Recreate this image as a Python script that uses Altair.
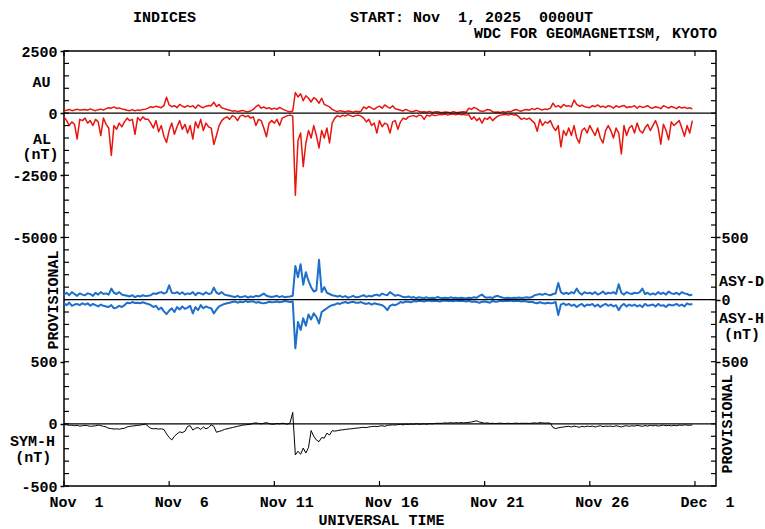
import altair as alt
import pandas as pd

# ---------------- data (3-hourly samples, Nov 1 00UT onward) -------------
STEP_HOURS = 3

AU = [
    80, 120, 150, 100, 130, 160, 120, 140,
    150, 120, 170, 130, 100, 140, 160, 120,
    180, 220, 200, 250, 190, 210, 170, 150,
    120, 100, 140, 90, 130, 110, 150, 160,
    200, 260, 230, 280, 250, 220, 300, 640,
    330, 260, 300, 220, 350, 280, 240, 300,
    250, 300, 200, 330, 260, 220, 280, 310,
    300, 440, 260, 350, 220, 180, 150, 120,
    80, 100, 60, 90, 110, 70, 60, 90,
    150, 260, 330, 200, 250, 180, 220, 150,
    200, 150, 230, 170, 120, 80, 60, 90,
    830, 650, 780, 500, 700, 600, 450, 620,
    550, 400, 600, 350, 300, 250, 150, 100,
    60, 100, 80, 50, 90, 70, 40, 80,
    60, 80, 250, 180, 270, 200, 150, 230,
    280, 200, 330, 250, 200, 300, 180, 150,
    120, 90, 150, 100, 60, 80, 110, 70,
    50, 60, 40, 70, 30, 50, 60, 40,
    30, 50, 40, 20, 60, 40, 30, 50,
    60, 40, 200, 150, 230, 180, 100, 80,
    90, 150, 130, 60, 40, 50, 30, 60,
    40, 70, 60, 120, 150, 100, 80, 130,
    150, 120, 180, 140, 200, 160, 130, 170,
    150, 200, 400, 250, 300, 220, 350, 280,
    300, 250, 530, 350, 280, 320, 260, 240,
    220, 300, 260, 330, 250, 280, 220, 300,
    270, 200, 300, 240, 280, 310, 220, 260,
    250, 300, 200, 280, 230, 260, 300, 220,
    200, 260, 230, 180, 300, 250, 200, 270,
    230, 180, 260, 200, 240, 190, 220, 160,
]

AL = [
    -150, -300, -500, -350, -450, -1040, -250, -300,
    -200, -400, -300, -500, -250, -350, -900, -200,
    -450, -600, -1700, -500, -650, -400, -550, -350,
    -200, -300, -250, -850, -180, -300, -150, -250,
    -250, -400, -600, -300, -750, -500, -930, -1180,
    -700, -400, -850, -550, -300, -650, -450, -800,
    -500, -1040, -350, -600, -250, -700, -400, -550,
    -600, -1260, -900, -500, -300, -200, -150, -250,
    -100, -150, -300, -120, -80, -150, -100, -200,
    -150, -500, -250, -300, -600, -950, -400, -300,
    -400, -250, -500, -200, -150, -100, -80, -120,
    -3300, -1100, -800, -2150, -1200, -700, -1000, -500,
    -900, -1400, -700, -1000, -600, -1200, -400, -200,
    -100, -150, -80, -120, -60, -100, -140, -90,
    -80, -120, -200, -350, -250, -500, -400, -800,
    -300, -550, -400, -450, -800, -350, -300, -650,
    -350, -200, -250, -150, -120, -100, -150, -80,
    -100, -250, -80, -120, -60, -100, -80, -50,
    -60, -40, -80, -50, -30, -70, -40, -60,
    -50, -80, -60, -250, -150, -300, -200, -400,
    -200, -250, -150, -300, -200, -120, -80, -60,
    -50, -80, -40, -70, -60, -150, -250, -200,
    -250, -200, -300, -400, -730, -250, -500, -350,
    -400, -300, -550, -700, -500, -1360, -700, -900,
    -600, -900, -500, -1000, -1200, -700, -600, -800,
    -500, -700, -900, -600, -1000, -1200, -700, -500,
    -700, -1000, -600, -800, -1640, -500, -900, -600,
    -500, -800, -400, -700, -800, -600, -450, -700,
    -500, -300, -600, -1250, -450, -700, -1070, -350,
    -500, -400, -300, -600, -930, -500, -800, -300,
]

ASY_D = [
    40, 55, 35, 60, 45, 30, 50, 40,
    35, 50, 45, 30, 55, 40, 60, 45,
    50, 40, 88, 55, 45, 60, 40, 35,
    30, 25, 35, 20, 30, 25, 35, 28,
    30, 35, 50, 45, 55, 60, 48, 58,
    115, 55, 50, 60, 45, 58, 40, 50,
    45, 60, 35, 55, 50, 40, 58, 45,
    50, 96, 55, 45, 60, 40, 35, 30,
    25, 20, 30, 18, 22, 28, 15, 25,
    20, 30, 25, 35, 48, 30, 25, 20,
    25, 30, 20, 28, 18, 22, 25, 30,
    270, 180, 285, 120, 220, 150, 100, 65,
    75, 320, 60, 100, 55, 45, 35, 30,
    25, 30, 20, 28, 15, 22, 30, 18,
    20, 28, 35, 22, 30, 25, 35, 40,
    30, 48, 40, 35, 60, 45, 30, 38,
    30, 20, 18, 25, 15, 20, 12, 18,
    15, 12, 18, 10, 15, 12, 20, 14,
    12, 15, 10, 18, 12, 14, 10, 15,
    12, 10, 15, 12, 18, 15, 30, 40,
    20, 15, 18, 12, 25, 30, 20, 15,
    12, 15, 10, 14, 12, 16, 12, 15,
    18, 15, 20, 35, 40, 45, 38, 48,
    40, 35, 45, 48, 133, 60, 45, 55,
    45, 60, 50, 88, 55, 40, 60, 50,
    55, 45, 60, 40, 50, 65, 45, 55,
    50, 60, 45, 123, 55, 40, 60, 50,
    45, 55, 50, 60, 88, 45, 55, 40,
    50, 40, 60, 45, 55, 40, 65, 50,
    45, 55, 40, 60, 50, 45, 35, 40,
]

ASY_H = [
    30, 45, 25, 50, 40, 35, 45, 30,
    40, 30, 50, 35, 45, 55, 40, 50,
    55, 60, 45, 70, 65, 50, 60, 45,
    25, 30, 20, 28, 25, 30, 22, 30,
    35, 45, 60, 50, 80, 65, 95, 117,
    90, 70, 100, 60, 80, 55, 75, 65,
    50, 112, 60, 85, 45, 70, 55, 65,
    70, 112, 80, 55, 45, 35, 30, 25,
    20, 15, 25, 18, 22, 12, 20, 15,
    15, 25, 20, 28, 30, 25, 18, 22,
    20, 15, 22, 18, 12, 16, 20, 15,
    392, 180, 245, 150, 210, 120, 160, 110,
    140, 192, 100, 85, 70, 55, 45, 40,
    30, 35, 25, 20, 28, 22, 18, 25,
    25, 20, 30, 35, 28, 40, 30, 35,
    40, 45, 60, 85, 50, 40, 45, 35,
    20, 25, 15, 18, 22, 12, 15, 10,
    12, 15, 10, 8, 14, 10, 12, 15,
    10, 8, 12, 10, 14, 8, 12, 10,
    12, 15, 10, 18, 15, 20, 25, 18,
    15, 20, 25, 12, 18, 15, 10, 14,
    10, 12, 8, 14, 10, 12, 15, 12,
    15, 20, 18, 25, 30, 22, 28, 32,
    25, 30, 28, 20, 125, 40, 30, 45,
    35, 50, 40, 60, 45, 35, 55, 40,
    45, 35, 55, 40, 60, 45, 35, 50,
    40, 55, 45, 85, 50, 35, 55, 40,
    50, 40, 55, 45, 60, 35, 50, 45,
    40, 55, 35, 50, 45, 60, 40, 45,
    45, 35, 50, 40, 55, 30, 40, 35,
]

SYM_H = [
    -5, -8, -12, -10, -15, -12, -18, -15,
    -12, -15, -20, -18, -15, -10, -14, -20,
    -25, -35, -38, -42, -40, -43, -38, -35,
    -25, -20, -18, -15, -12, -10, -6, -2,
    -20, -35, -40, -38, -42, -40, -45, -80,
    -110, -130, -100, -80, -65, -70, -60, -20,
    -15, -50, -35, -30, -45, -25, -40, -30,
    -8, -20, -68, -60, -55, -45, -40, -35,
    -30, -25, -20, -15, -10, -8, -5, -3,
    5, 8, 3, 0, 5, 10, 2, -3,
    -2, 3, 0, 5, 2, -3, 8, 92,
    -250, -220, -245, -195, -235, -190, -54, -100,
    -130, -143, -110, -115, -75, -90, -55, -58,
    -55, -50, -48, -45, -42, -40, -38, -35,
    -33, -30, -28, -30, -25, -22, -20, -22,
    -18, -15, -20, -12, -10, -8, -10, -6,
    -5, -8, -3, -5, -2, -4, 0, -3,
    -2, 0, -3, 2, 0, 3, 5, 4,
    5, 8, 6, 10, 7, 9, 8, 10,
    8, 10, 12, 15, 20, 25, 15, 10,
    5, 8, 3, 5, 2, 4, 6, 3,
    3, 5, 2, 4, 6, 3, 5, 4,
    5, 3, 6, 8, 5, 10, 8, 6,
    8, 5, -30, -38, -32, -28, -25, -22,
    -20, -25, -18, -22, -28, -20, -24, -18,
    -22, -18, -25, -20, -15, -22, -18, -20,
    -18, -22, -15, -20, -25, -18, -15, -20,
    -15, -18, -12, -16, -20, -14, -18, -12,
    -16, -12, -18, -14, -10, -15, -12, -16,
    -12, -15, -10, -12, -8, -10, -12, -8,
]

HOURS = [i * STEP_HOURS for i in range(len(AU))]

NB = "\u00a0"
X_TICK_HOURS = [0, 120, 240, 360, 480, 600, 720]
X_TICK_LABELS = ["Nov" + NB + NB + "1", "Nov" + NB + NB + "6", "Nov" + NB + "11",
                 "Nov" + NB + "16", "Nov" + NB + "21", "Nov" + NB + "26", "Dec" + NB + NB + "1"]

# one common vertical scale in AU/AL nT; the ASY and SYM-H panels are offset and scaled into it
ASY_ZERO = -7500
SYM_ZERO = -12500
PANEL_FACTOR = 5
LEFT_VALUES = [2500, 0, -2500, -5000, -10000, -12500, -15000]
LEFT_LABELS = ["2500", "0", "-2500", "-5000", "500", "0", "-500"]
RIGHT_VALUES = [-5000, -7500, -10000]
RIGHT_LABELS = ["500", "0", "500"]
ZERO_LINES = [0, ASY_ZERO, SYM_ZERO]
MINOR_TICKS = [2500 - 500 * i for i in range(36)]

W, H = 652, 435
FONT = "Liberation Mono"
RED = "#e8150f"
BLUE = "#1e6fcc"


def label_expr(values, labels):
    expr = "''"
    for v, l in reversed(list(zip(values, labels))):
        expr = f"datum.value == {v} ? '{l}' : ({expr})"
    return expr


XSCALE = alt.Scale(domain=[0, 744], nice=False, zero=False)
X_AXIS = alt.Axis(values=X_TICK_HOURS, labelExpr=label_expr(X_TICK_HOURS, X_TICK_LABELS),
                  ticks=False, domain=False, grid=False, labelOffset=12, labelPadding=8,
                  title=None, orient="bottom", labelFlush=False, labelOverlap=False)
X_ENC = alt.X("hour:Q", scale=XSCALE, axis=X_AXIS)


def yscale():
    return alt.Scale(domain=[-15000, 2500], nice=False, zero=False)


def series(vals, expr, color, width):
    df = pd.DataFrame({"hour": HOURS, "v": vals})
    return (
        alt.Chart(df)
        .transform_calculate(u=expr)
        .mark_line(color=color, strokeWidth=width, strokeJoin="round")
        .encode(x=X_ENC, y=alt.Y("u:Q", scale=yscale(), axis=None))
    )


au = series(AU, "datum.v", RED, 1.5)
al = series(AL, "datum.v", RED, 1.5)
asyd = series(ASY_D, f"{ASY_ZERO} + {PANEL_FACTOR} * datum.v", BLUE, 2.0)
asyh = series(ASY_H, f"{ASY_ZERO} - {PANEL_FACTOR} * datum.v", BLUE, 2.0)
symh = series(SYM_H, f"{SYM_ZERO} + {PANEL_FACTOR} * datum.v", "black", 1.0)

zeros = alt.Chart(pd.DataFrame({"u": ZERO_LINES})).mark_rule(color="black", strokeWidth=1.3).encode(
    y=alt.Y("u:Q", scale=yscale(), axis=None)
)

xt = pd.DataFrame({"hour": X_TICK_HOURS})
top_ticks = alt.Chart(xt).mark_rule(color="black", strokeWidth=1.2).encode(
    x=X_ENC, y=alt.value(0), y2=alt.value(5))
bottom_ticks = alt.Chart(xt).mark_rule(color="black", strokeWidth=1.2).encode(
    x=X_ENC, y=alt.value(H - 5), y2=alt.value(H))

yt = pd.DataFrame({"u": MINOR_TICKS})
left_axis = alt.Axis(values=LEFT_VALUES, labelExpr=label_expr(LEFT_VALUES, LEFT_LABELS),
                     tickSize=4, labelPadding=3, domain=False, grid=False, title=None,
                     orient="left", labelFlush=False, labelOverlap=False)
left_ticks = alt.Chart(yt).mark_rule(color="black", strokeWidth=1.2).encode(
    y=alt.Y("u:Q", scale=yscale(), axis=left_axis), x=alt.value(0), x2=alt.value(5))

right_axis = alt.Axis(values=RIGHT_VALUES, labelExpr=label_expr(RIGHT_VALUES, RIGHT_LABELS),
                      tickSize=4, labelPadding=1, domain=False, grid=False, title=None,
                      orient="right", labelFlush=False, labelOverlap=False)
right_ticks = alt.Chart(yt).mark_rule(color="black", strokeWidth=1.2).encode(
    y=alt.Y("u:Q", scale=yscale(), axis=right_axis), x=alt.value(W - 5), x2=alt.value(W))


def label(text, px, py, align="center", angle=0):
    return alt.Chart(pd.DataFrame({"t": [text]})).mark_text(
        font=FONT, fontSize=15, fontWeight="bold", color="black",
        align=align, baseline="middle", angle=angle,
    ).encode(text="t:N", x=alt.value(px), y=alt.value(py))


texts = [
    label("INDICES", 100.5, -34),
    label("START: Nov" + NB + NB + "1, 2025" + NB + NB + "0000UT", 286, -34, "left"),
    label("WDC FOR GEOMAGNETISM, KYOTO", 653, -18, "right"),
    label("AU", -22.5, 30.7),
    label("AL", -22, 87.5),
    label("(nT)", -23.5, 103),
    label("SYM-H", -31.5, 390),
    label("(nT)", -30.7, 406),
    label("PROVISIONAL", -11.5, 249, angle=270),
    label("ASY-D", 655, 230, "left"),
    label("ASY-H", 655, 267, "left"),
    label("(nT)", 678, 283),
    label("PROVISIONAL", 663, 373, angle=270),
    label("UNIVERSAL TIME", 317.5, 469),
]

chart = (
    alt.layer(au, al, asyd, asyh, symh, zeros, top_ticks, bottom_ticks, left_ticks, right_ticks, *texts)
    .resolve_scale(y="independent")
    .properties(
        width=W, height=H,
        autosize=alt.AutoSizeParams(type="none"),
        padding={"left": 64, "top": 51, "right": 49, "bottom": 43},
        background="white",
    )
    .configure_view(stroke="black", strokeWidth=1.5)
    .configure_axis(labelFont=FONT, labelFontSize=15, labelFontWeight="bold",
                    labelColor="black", tickColor="black", tickWidth=1.5)
)

chart.save("out.html", embed_options={"renderer": "svg", "actions": False})
